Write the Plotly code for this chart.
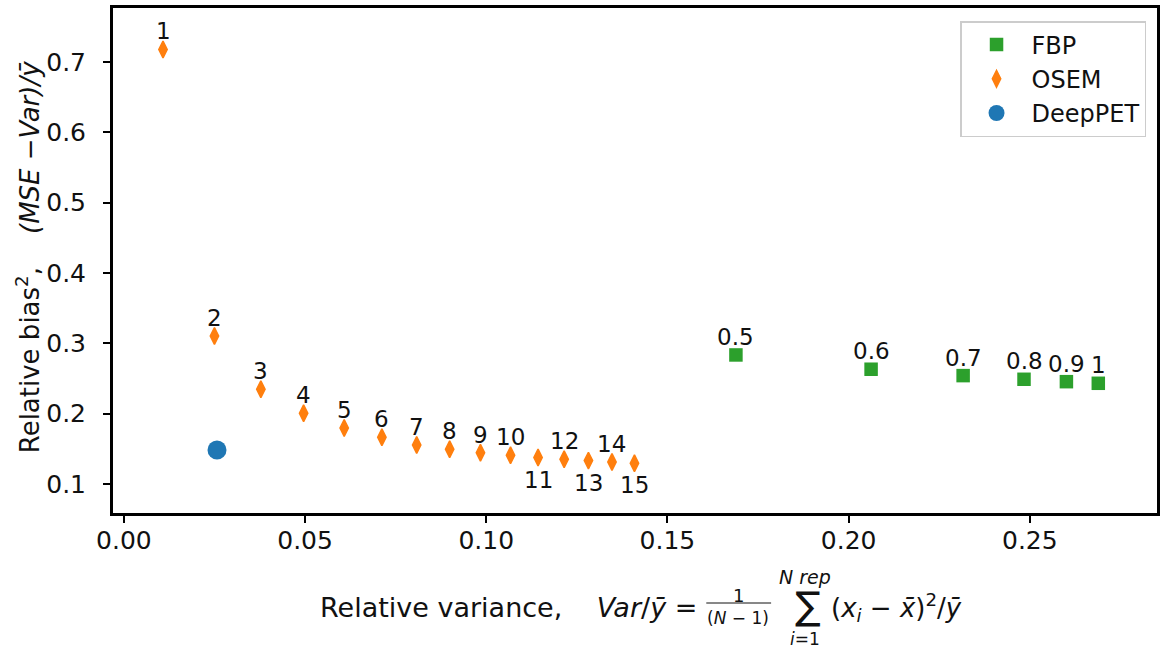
import plotly.graph_objects as go

# ---- data ----
fbp_x = [0.1689, 0.2062, 0.2316, 0.2484, 0.2601, 0.2689]
fbp_y = [0.2835, 0.2632, 0.2541, 0.2489, 0.2455, 0.2432]
fbp_labels = ["0.5", "0.6", "0.7", "0.8", "0.9", "1"]

osem_x = [0.0108, 0.0250, 0.0378, 0.0496, 0.0608, 0.0712, 0.0808, 0.0899,
          0.0984, 0.1067, 0.1143, 0.1215, 0.1282, 0.1347, 0.1409]
osem_y = [0.718, 0.3105, 0.2347, 0.2006, 0.1797, 0.1664, 0.1555, 0.1494,
          0.1445, 0.1408, 0.1375, 0.1351, 0.1332, 0.1313, 0.1294]
osem_labels = [str(i) for i in range(1, 16)]
osem_below = ["11", "13", "15"]

deep_x = [0.0257]
deep_y = [0.1484]

x_ticks = [0.00, 0.05, 0.10, 0.15, 0.20, 0.25]
y_ticks = [0.1, 0.2, 0.3, 0.4, 0.5, 0.6, 0.7]

GREEN = "#2ca02c"
ORANGE = "#ff7f0e"
BLUE = "#1f77b4"
FONT = "DejaVu Sans"
INK = "#111111"

fig = go.Figure()
fig.add_trace(go.Scatter(x=fbp_x, y=fbp_y, mode="markers", name="FBP",
                         marker=dict(symbol="square", size=13.5, color=GREEN)))
fig.add_trace(go.Scatter(x=osem_x, y=osem_y, mode="markers", name="OSEM",
                         marker=dict(symbol="diamond-tall", size=12, color=ORANGE,
                                     line=dict(width=1.5, color=ORANGE))))
fig.add_trace(go.Scatter(x=deep_x, y=deep_y, mode="markers", name="DeepPET",
                         marker=dict(symbol="circle", size=19, color=BLUE)))

annotations = []
for xv, yv, lab in zip(fbp_x, fbp_y, fbp_labels):
    annotations.append(dict(x=xv, y=yv, xref="x", yref="y", text=lab, showarrow=False,
                            yshift=18, font=dict(family=FONT, size=23, color=INK)))
for xv, yv, lab in zip(osem_x, osem_y, osem_labels):
    shift = -22 if lab in osem_below else 18
    annotations.append(dict(x=xv, y=yv, xref="x", yref="y", text=lab, showarrow=False,
                            yshift=shift, font=dict(family=FONT, size=23, color=INK)))

# axis-title pieces (paper coordinates)
L, R, T, B = 113, 1160, 8, 513
def px(v):
    return (v - L) / (R - L)
def py(v):
    return (B - v) / (B - T)

tf = dict(family=FONT, color=INK)
annotations += [
    dict(x=px(701), y=py(607), xref="paper", yref="paper", xanchor="right", yanchor="middle",
         text="Relative variance,    <i>Var</i>/<i>ȳ</i> =", showarrow=False, font=dict(size=27, **tf)),
    dict(x=px(740), y=py(595), xref="paper", yref="paper", xanchor="center", yanchor="middle",
         text="1", showarrow=False, font=dict(size=18, **tf)),
    dict(x=px(740), y=py(618), xref="paper", yref="paper", xanchor="center", yanchor="middle",
         text="(<i>N</i> − 1)", showarrow=False, font=dict(size=17, **tf)),
    dict(x=px(810), y=py(606), xref="paper", yref="paper", xanchor="center", yanchor="middle",
         text="∑", showarrow=False, font=dict(size=38, **tf)),
    dict(x=px(807), y=py(577), xref="paper", yref="paper", xanchor="center", yanchor="middle",
         text="<i>N rep</i>", showarrow=False, font=dict(size=19, **tf)),
    dict(x=px(807), y=py(639), xref="paper", yref="paper", xanchor="center", yanchor="middle",
         text="<i>i</i>=1", showarrow=False, font=dict(size=17, **tf)),
    dict(x=px(831), y=py(607), xref="paper", yref="paper", xanchor="left", yanchor="middle",
         text="(<i>x<sub>i</sub></i> − <i>x̄</i>)<sup>2</sup>/<i>ȳ</i>", showarrow=False,
         font=dict(size=26, **tf)),
    dict(x=px(28), y=py(257), xref="paper", yref="paper", xanchor="center", yanchor="middle",
         textangle=-90,
         text="Relative bias<sup>2</sup>,    <i>(MSE −Var)/ȳ</i>",
         showarrow=False, font=dict(size=26, **tf)),
]

shapes = [
    dict(type="line", xref="paper", yref="paper", x0=px(708), x1=px(773), y0=py(603), y1=py(603),
         line=dict(color=INK, width=1)),
]

fig.update_layout(
    width=1162, height=652,
    margin=dict(l=L, r=1162 - R, t=T, b=652 - B),
    paper_bgcolor="white", plot_bgcolor="white",
    font=dict(family=FONT, size=25, color=INK),
    showlegend=True,
    legend=dict(x=px(1149), y=py(21), xanchor="right", yanchor="top",
                bgcolor="white", bordercolor="#cccccc", borderwidth=1.5,
                font=dict(family=FONT, size=24, color=INK),
                itemsizing="trace", itemwidth=60),
    annotations=annotations,
    shapes=shapes,
)
fig.update_xaxes(range=[-0.003, 0.2851], tickvals=x_ticks, tickformat=".2f",
                 showgrid=False, zeroline=False, showline=True, linecolor="black",
                 linewidth=3, mirror=True, ticks="outside", ticklen=7, tickwidth=1.5,
                 tickcolor="black", ticklabelstandoff=-4,
                 tickfont=dict(family=FONT, size=25, color=INK))
fig.update_yaxes(range=[0.0587, 0.777], tickvals=y_ticks, tickformat=".1f",
                 showgrid=False, zeroline=False, showline=True, linecolor="black",
                 linewidth=3, mirror=True, ticks="outside", ticklen=7, tickwidth=1.5,
                 tickcolor="black", ticklabelstandoff=12,
                 tickfont=dict(family=FONT, size=25, color=INK))

fig.write_html("out.html", config={"displayModeBar": False},
               post_script="document.body.style.margin='0';document.body.style.overflow='hidden';")
